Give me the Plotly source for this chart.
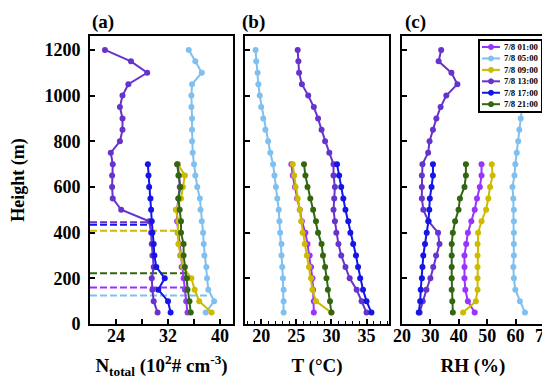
import plotly.graph_objects as go

# ---------------- data ----------------
times = ["7/8 01:00", "7/8 05:00", "7/8 09:00", "7/8 13:00", "7/8 17:00", "7/8 21:00"]
colors = ["#9933FF", "#80C0F0", "#CCBB00", "#6633CC", "#1515E8", "#336611"]

heights_full = list(range(50, 1201, 50))   # 05:00, 13:00 profiles
heights_low = list(range(50, 701, 50))     # other profiles

# Panel (a): N_total (10^2 # cm^-3)
n_0100 = [35.0, 34.8, 34.6, 34.4, 34.1, 33.9, 33.7, 33.5, 33.4, 33.4, 33.6, 33.8, 33.7, 33.5]
n_0500 = [37.8, 39.1, 38.2, 38.0, 37.9, 37.6, 37.5, 37.4, 37.2, 37.0, 36.9, 36.5,
          36.2, 36.0, 35.8, 35.7, 35.7, 35.7, 35.6, 35.6, 35.7, 37.2, 36.2, 35.2]
n_0900 = [38.7, 36.8, 36.1, 35.6, 34.3, 34.0, 33.6, 33.5, 33.6, 33.2, 34.0, 34.3, 34.6, 33.5]
n_1300 = [30.4, 29.8, 29.6, 29.5, 29.8, 29.6, 29.5, 29.4, 29.1, 24.8, 23.5, 23.4,
          23.4, 23.5, 23.2, 24.6, 25.0, 25.0, 24.6, 25.0, 25.9, 28.8, 26.3, 22.3]
n_1700 = [32.4, 32.0, 30.5, 31.5, 30.2, 29.9, 29.8, 29.6, 29.5, 29.4, 29.3, 29.1, 29.0, 28.9]
n_2100 = [35.5, 35.3, 35.0, 34.9, 34.6, 34.4, 34.4, 34.0, 34.0, 33.8, 33.6, 33.9, 33.6, 33.4]

# Boundary-layer heights (m) marked by dashed lines in panel (a), and N_total where they end
bl_heights = [160, 125, 408, 445, 435, 222]
bl_ntotal = [35.0, 38.0, 33.5, 29.1, 29.4, 34.9]

# Panel (b): T (degC)
t_0100 = [27.5, 27.5, 27.4, 27.3, 27.1, 26.9, 26.6, 26.3, 25.8, 25.5, 25.1, 24.8, 24.5, 24.3]
t_0500 = [23.2, 23.2, 23.2, 23.1, 23.0, 22.9, 22.9, 22.7, 22.6, 22.5, 22.3, 22.1,
          21.9, 21.7, 21.3, 21.0, 20.6, 20.3, 20.0, 19.8, 19.6, 19.5, 19.3, 19.2]
t_0900 = [30.0, 27.8, 27.3, 27.1, 26.8, 26.5, 26.2, 25.9, 25.7, 25.5, 25.2, 24.9, 24.7, 24.5]
t_1300 = [35.0, 34.3, 33.6, 32.6, 32.0, 31.4, 31.0, 30.7, 30.5, 30.3, 30.4, 30.5,
          30.3, 30.3, 29.7, 29.1, 28.6, 28.1, 27.5, 26.7, 25.8, 25.4, 25.3, 25.2]
t_1700 = [35.7, 35.0, 34.5, 34.1, 33.8, 33.5, 33.1, 32.7, 32.4, 32.0, 31.7, 31.4, 31.1, 30.8]
t_2100 = [30.0, 29.8, 29.5, 29.3, 29.1, 28.8, 28.6, 28.1, 27.8, 27.4, 27.0, 26.6, 26.3, 26.1]

# Panel (c): RH (%)
rh_0100 = [45.6, 43.2, 42.3, 42.0, 42.0, 42.0, 42.6, 43.2, 44.4, 45.6, 46.4, 47.4, 48.0, 48.0]
rh_0500 = [63.3, 61.5, 59.9, 59.4, 59.2, 59.4, 59.4, 59.4, 59.4, 59.4, 59.2, 58.9,
           59.6, 59.9, 60.4, 60.9, 61.3, 61.8, 62.3, 62.5, 62.6, 62.8, 63.0, 63.0]
rh_0900 = [41.5, 46.0, 46.6, 46.6, 46.6, 46.6, 46.6, 46.8, 48.0, 49.6, 50.4, 51.0, 51.9, 51.6]
rh_1300 = [26.2, 27.3, 28.6, 30.0, 31.0, 32.0, 33.2, 32.7, 29.3, 27.5, 27.0, 27.0,
           27.0, 27.2, 29.2, 29.7, 30.9, 32.1, 33.6, 35.6, 39.5, 37.4, 32.9, 33.8]
rh_1700 = [25.9, 26.4, 26.6, 27.0, 27.2, 27.5, 28.1, 28.7, 29.3, 29.6, 29.8, 30.4, 30.9, 30.9]
rh_2100 = [37.9, 37.7, 37.5, 37.5, 37.5, 37.5, 37.5, 37.9, 38.7, 39.9, 40.4, 42.0, 42.5, 42.5]

y_ticks = [0, 200, 400, 600, 800, 1000, 1200]
xa_ticks = [24, 32, 40]
xa_minor = [28, 36]
xb_ticks = [20, 25, 30, 35]
xc_ticks = [20, 30, 40, 50, 60, 70]

# ---------------- figure ----------------
W, H = 550, 381
ML, MR, MT, MB = 82, 14, 28, 65
PW, PH = W - ML - MR, H - MT - MB
FONT = "Liberation Serif"


def fx(px):
    return (px - ML) / PW


def fy(py):
    return (H - MB - py) / PH


fig = go.Figure()

profiles_a = [n_0100, n_0500, n_0900, n_1300, n_1700, n_2100]
profiles_b = [t_0100, t_0500, t_0900, t_1300, t_1700, t_2100]
profiles_c = [rh_0100, rh_0500, rh_0900, rh_1300, rh_1700, rh_2100]
heights_of = [heights_low, heights_full, heights_low, heights_full, heights_low, heights_low]

XA_RANGE = [20, 42]

# dashed boundary-layer lines (panel a)
for i, t in enumerate(times):
    fig.add_trace(go.Scatter(
        x=[XA_RANGE[0], bl_ntotal[i]], y=[bl_heights[i], bl_heights[i]],
        mode="lines", line=dict(color=colors[i], width=2, dash="7px,3px"),
        xaxis="x", yaxis="y", showlegend=False, hoverinfo="skip"))

for axn, profs in (("", profiles_a), ("2", profiles_b), ("3", profiles_c)):
    for i, t in enumerate(times):
        fig.add_trace(go.Scatter(
            x=profs[i], y=heights_of[i], mode="lines+markers", name=t,
            line=dict(color=colors[i], width=2),
            marker=dict(color=colors[i], size=6),
            xaxis="x" + axn, yaxis="y" + axn, showlegend=False))

tickfont = dict(family=FONT, size=18, color="black", weight="bold")
titlefont = dict(family=FONT, size=19, color="black", weight="bold")
common_x = dict(showline=True, linecolor="black", linewidth=2, mirror=True,
                ticks="inside", ticklen=5, tickwidth=1.5, tickcolor="black",
                showgrid=False, zeroline=False, tickfont=tickfont,
                ticklabelstandoff=-6, automargin=False)
common_y = dict(showline=True, linecolor="black", linewidth=2, mirror=True,
                ticks="inside", ticklen=5, tickwidth=1.5, tickcolor="black",
                showgrid=False, zeroline=False, tickfont=tickfont,
                range=[0, 1261], tickvals=y_ticks, automargin=False)

fig.update_layout(
    width=W, height=H, margin=dict(l=ML, r=MR, t=MT, b=MB),
    plot_bgcolor="white", paper_bgcolor="white", showlegend=False,
    xaxis=dict(domain=[0, fx(225)], range=XA_RANGE, tickvals=xa_ticks, anchor="y",
               minor=dict(tickvals=xa_minor, ticks="inside", ticklen=5,
                          tickwidth=1.5, tickcolor="black"),
               title=dict(text="N<sub>total</sub> (10<sup>2</sup># cm<sup>-3</sup>)",
                          font=titlefont, standoff=14),
               **common_x),
    xaxis2=dict(domain=[fx(237), fx(381)], range=[17.7, 38.2], tickvals=xb_ticks,
                anchor="y2",
                minor=dict(dtick=1, tick0=0, ticks="inside", ticklen=3,
                           tickwidth=1, tickcolor="black"),
                title=dict(text="T (\u00b0C)", font=titlefont, standoff=14),
                **common_x),
    xaxis3=dict(domain=[fx(394), 1], range=[20, 70], tickvals=xc_ticks,
                anchor="y3",
                title=dict(text="RH (%)", font=titlefont, standoff=14),
                **common_x),
    yaxis=dict(anchor="x", domain=[0, 1], ticklabelstandoff=4,
               title=dict(text="Height (m)", font=dict(family=FONT, size=18,
                                                        color="black", weight="bold"),
                          standoff=18),
               **common_y),
    yaxis2=dict(anchor="x2", domain=[0, 1], showticklabels=False, **common_y),
    yaxis3=dict(anchor="x3", domain=[0, 1], showticklabels=False, **common_y),
)

ann_font = dict(family=FONT, size=19, color="black", weight="bold")
annotations = [
    dict(text="(a)", x=fx(83), y=fy(2), xanchor="left", yanchor="top"),
    dict(text="(b)", x=fx(233), y=fy(2), xanchor="left", yanchor="top"),
    dict(text="(c)", x=fx(396), y=fy(2), xanchor="left", yanchor="top"),
]
for a in annotations:
    a.update(xref="paper", yref="paper", showarrow=False, font=ann_font, borderpad=0)

# custom compact legend (box, line samples, markers, one multi-line label block)
ROW0, ROWSTEP = 39.0, 11.44
shapes = [dict(type="rect", xref="paper", yref="paper",
               x0=fx(471), x1=fx(534), y0=fy(104), y1=fy(32),
               line=dict(color="black", width=2), fillcolor="white", layer="above")]
for i, t in enumerate(times):
    ry = ROW0 + i * ROWSTEP
    shapes.append(dict(type="line", xref="paper", yref="paper",
                       x0=fx(474), x1=fx(492), y0=fy(ry), y1=fy(ry),
                       line=dict(color=colors[i], width=2), layer="above"))
    shapes.append(dict(type="circle", xref="paper", yref="paper",
                       x0=fx(480.5), x1=fx(485.5), y0=fy(ry + 2.5), y1=fy(ry - 2.5),
                       line=dict(color=colors[i], width=1), fillcolor=colors[i],
                       layer="above"))
annotations.append(dict(text="<br>".join(times), xref="paper", yref="paper",
                        x=fx(495), y=fy(ROW0 + 2.5 * ROWSTEP),
                        xanchor="left", yanchor="middle", align="left",
                        showarrow=False, borderpad=0,
                        font=dict(family=FONT, size=ROWSTEP / 1.3, color="black",
                                  weight="bold")))

fig.update_layout(annotations=annotations, shapes=shapes)
fig.write_html("out.html")
